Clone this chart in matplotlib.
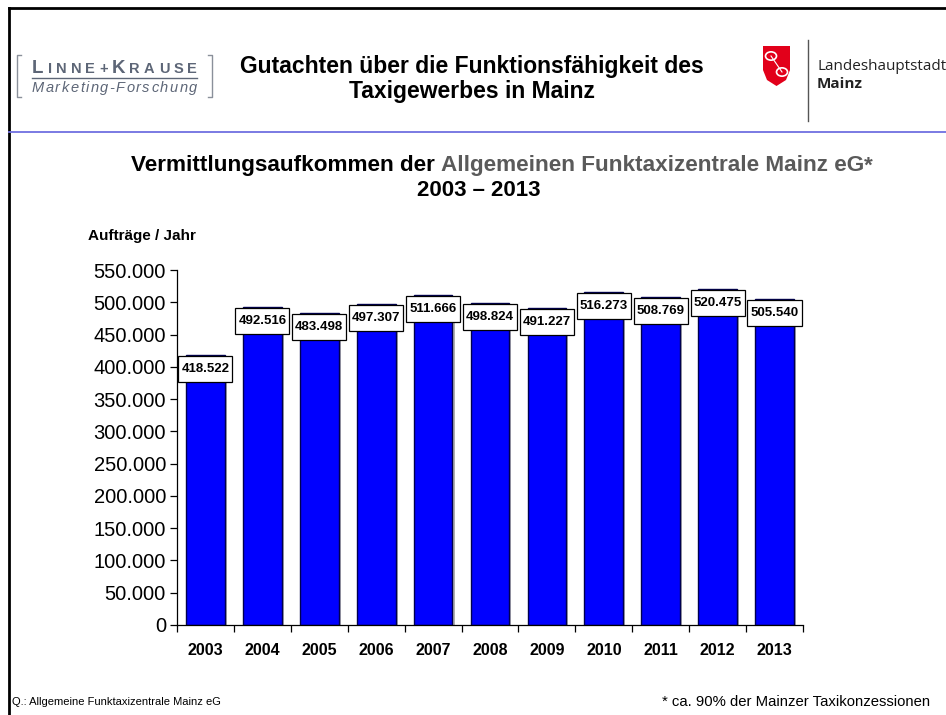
"""Vermittlungsaufkommen der Allgemeinen Funktaxizentrale Mainz eG, 2003-2013."""

import matplotlib
matplotlib.use("Agg")
import matplotlib.pyplot as plt
import matplotlib.patheffects as pe
from matplotlib.lines import Line2D
from matplotlib.patches import Polygon, Circle, Rectangle
from matplotlib.transforms import IdentityTransform
from matplotlib.ticker import FuncFormatter, MultipleLocator, FixedLocator

years = ["2003", "2004", "2005", "2006", "2007", "2008", "2009", "2010", "2011", "2012", "2013"]
orders = [418522, 492516, 483498, 497307, 511666, 498824, 491227, 516273, 508769, 520475, 505540]

W, H = 946, 715
BLUE = "#0000ff"
GRAY = "#5a5a5a"
LOGO_GRAY = "#5d6677"

plt.rcParams["font.family"] = ["Liberation Sans", "DejaVu Sans"]

fig = plt.figure(figsize=(W / 100, H / 100), dpi=100)
fig.canvas.draw()
renderer = fig.canvas.get_renderer()


def fx(px):
    return px / W


def fy(py):
    return 1 - py / H


def de_num(v, _pos=None):
    return f"{int(v):,}".replace(",", ".")


def text_width(s, **kw):
    t = fig.text(0, 0, s, **kw)
    w = t.get_window_extent(renderer).width
    t.remove()
    return w


def spread_text(chars, x0, x1, y, **kw):
    """Place (char, fontsize) pieces evenly letter-spaced between x0 and x1 (pixels)."""
    widths = [text_width(c, fontsize=fs, **kw) for c, fs in chars]
    gap = (x1 - x0 - sum(widths)) / (len(chars) - 1)
    x = x0
    for (c, fs), w in zip(chars, widths):
        fig.text(fx(x), fy(y), c, fontsize=fs, ha="left", va="baseline", **kw)
        x += w + gap


# frame lines (top + left) and the blue separator under the header
fig.add_artist(Line2D([fx(9), fx(946)], [fy(8), fy(8)], color="black", lw=2))
fig.add_artist(Line2D([fx(9), fx(9)], [fy(8), fy(715)], color="black", lw=2))
fig.add_artist(Line2D([fx(9), fx(946)], [fy(132), fy(132)], color="#6f6fe0", lw=1.3))

# --- header: Linne+Krause logo
for x0, d in [(17, 1), (212, -1)]:
    fig.add_artist(Line2D([fx(x0 + 4 * d), fx(x0), fx(x0), fx(x0 + 4 * d)],
                          [fy(55), fy(55), fy(97), fy(97)], color="#8a909a", lw=1))
big, small = 13.5, 10.5
logo_chars = [("L", big)] + [(c, small) for c in "INNE+"] + [("K", big)] + \
             [(c, small) for c in "RAUSE"]
spread_text(logo_chars, 32, 197, 73, fontweight="bold", color=LOGO_GRAY)
fig.add_artist(Line2D([fx(32), fx(197)], [fy(78), fy(78)], color=LOGO_GRAY, lw=1))
spread_text([(c, 10.5) for c in "Marketing-Forschung"], 32, 197, 92,
            style="italic", color=LOGO_GRAY)

# --- header: title
fig.text(fx(472), fy(79), "Gutachten über die Funktionsfähigkeit des\nTaxigewerbes in Mainz",
         ha="center", va="center", fontsize=16.5, fontweight="bold", linespacing=1.15)

# --- header: Mainz logo
shield = Polygon([[fx(763), fy(46)], [fx(790), fy(46)], [fx(790), fy(70)], [fx(786), fy(80)],
                  [fx(776.5), fy(86)], [fx(767), fy(80)], [fx(763), fy(70)]],
                 closed=True, fc="#e2001a", ec="none", transform=fig.transFigure)
fig.add_artist(shield)
for cx, cy in [(771, 56), (782, 72)]:
    fig.add_artist(Circle((fx(cx), fy(cy)), 5.5 / W, transform=fig.transFigure,
                          fc="none", ec="white", lw=1.2))
fig.add_artist(Line2D([fx(771), fx(782)], [fy(56), fy(72)], color="white", lw=0.8))
fig.add_artist(Line2D([fx(808), fx(808)], [fy(40), fy(121)], color="#555555", lw=1))
fig.text(fx(817), fy(66), "Landeshauptstadt", ha="left", va="center", fontsize=11,
         family=["Open Sans", "DejaVu Sans"], color="#222222")
fig.text(fx(817), fy(84), "Mainz", ha="left", va="center", fontsize=11, fontweight="bold",
         family=["Open Sans", "DejaVu Sans"], color="#222222")

# --- chart title with a gray middle part
title_kw = dict(fontsize=16.2, fontweight="bold", va="center", ha="left")
parts = [("Vermittlungsaufkommen der", "black"), ("Allgemeinen Funktaxizentrale Mainz eG", GRAY),
         ("*", GRAY)]
space_w = text_width("a a", **title_kw) - text_width("aa", **title_kw)
widths = [text_width(s, **title_kw) for s, _ in parts]
gaps = [space_w, 0, 0]
x = 502 - (sum(widths) + sum(gaps)) / 2
for (s, c), w, g in zip(parts, widths, gaps):
    fig.text(fx(x), fy(166), s, color=c, **title_kw)
    x += w + g
fig.text(fx(479), fy(190), "2003 – 2013", ha="center", va="center", fontsize=16,
         fontweight="bold")
fig.text(fx(88), fy(236), "Aufträge / Jahr", ha="left", va="center", fontsize=11,
         fontweight="bold")

# --- bar chart
ax = fig.add_axes([fx(177), 90 / H, 626 / W, 355 / H])
xs = list(range(len(years)))
bars = ax.bar(xs, orders, width=0.68, color=BLUE, edgecolor="#000050", linewidth=1.0, zorder=2)
for b in bars:
    b.set_path_effects([pe.SimplePatchShadow(offset=(1.5, -1.5), shadow_rgbFace="#b0b0b0",
                                              alpha=1), pe.Normal()])

labels = []
for xi, v in zip(xs, orders):
    labels.append(ax.annotate(de_num(v), (xi, v), xytext=(0, -10.3), textcoords="offset points",
                              ha="center", va="center", fontsize=9.5, fontweight="bold",
                              zorder=4))

ax.set_xlim(-0.5, len(years) - 0.5)
ax.set_ylim(0, 550000)
ax.yaxis.set_major_locator(MultipleLocator(50000))
ax.yaxis.set_major_formatter(FuncFormatter(de_num))
ax.xaxis.set_major_locator(FixedLocator(xs))
ax.set_xticklabels(years, fontsize=11.5, fontweight="bold")
ax.xaxis.set_minor_locator(FixedLocator([i - 0.5 for i in range(len(years) + 1)]))
ax.tick_params(axis="x", which="major", length=0, pad=13)
ax.tick_params(axis="x", which="minor", length=5, width=0.9, direction="out")
ax.tick_params(axis="y", length=5, width=0.9, direction="out", labelsize=14.5, pad=3)
for side in ["top", "right"]:
    ax.spines[side].set_visible(False)
for side in ["left", "bottom"]:
    ax.spines[side].set_linewidth(0.9)

# white label boxes sized around the value texts (wide vertical, narrow horizontal pad)
fig.canvas.draw()
for t in labels:
    bb = t.get_window_extent(renderer)
    cx, cy = (bb.x0 + bb.x1) / 2, (bb.y0 + bb.y1) / 2
    bw, bh = bb.width + 6, 26
    ax.add_patch(Rectangle((cx - bw / 2, cy - bh / 2), bw, bh, transform=IdentityTransform(),
                           fc="white", ec="black", lw=0.9, zorder=3, clip_on=False))

# --- footer
fig.text(fx(12), fy(702), "Q.: Allgemeine Funktaxizentrale Mainz eG", ha="left", va="center",
         fontsize=8)
fig.text(fx(930), fy(702), "* ca. 90% der Mainzer Taxikonzessionen", ha="right", va="center",
         fontsize=10.7)

fig.savefig("out.png", dpi=100)
